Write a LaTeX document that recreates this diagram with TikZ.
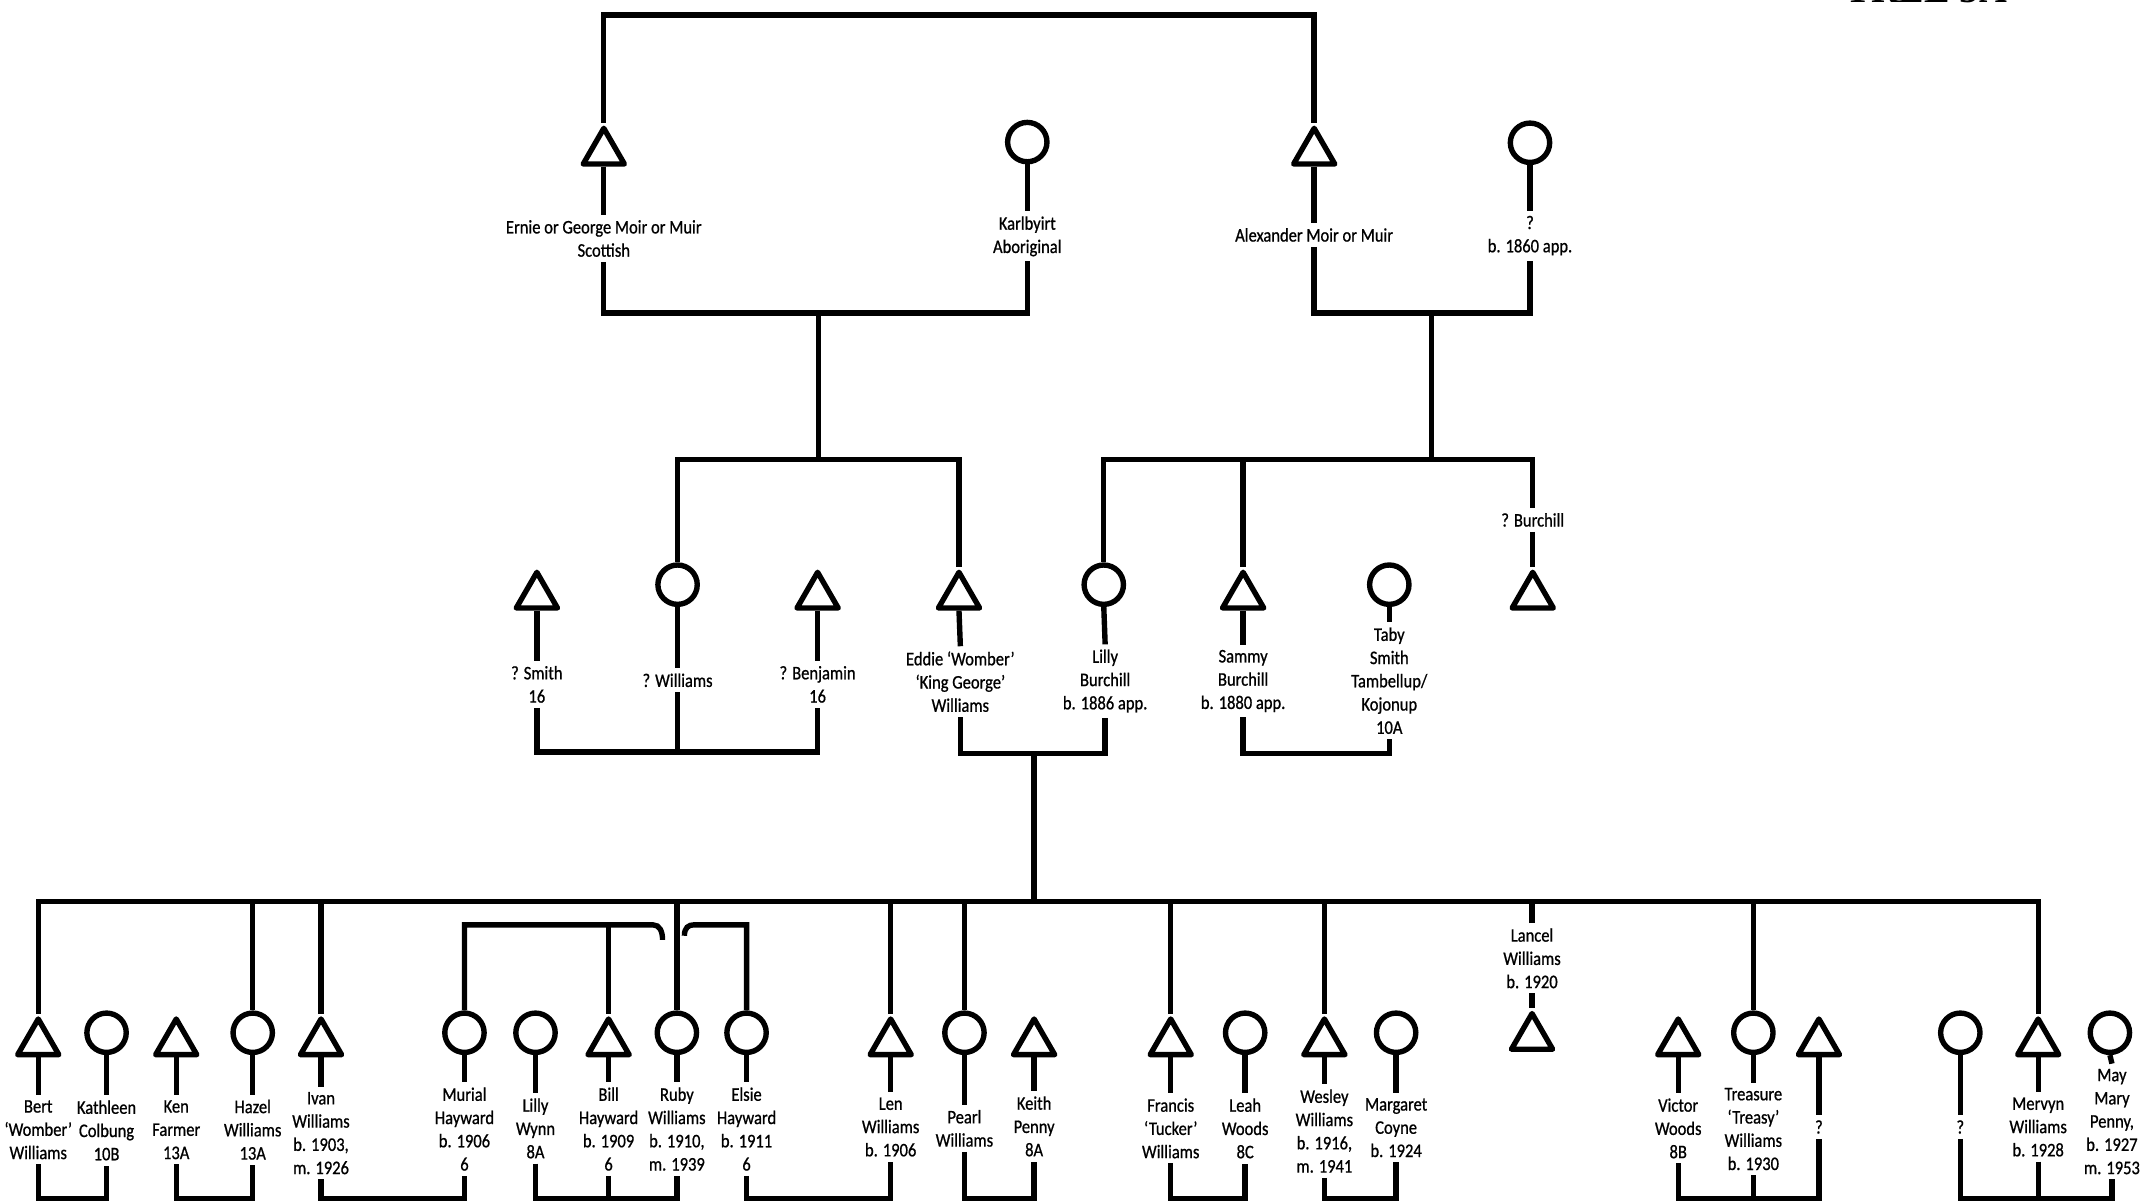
\documentclass[tikz,border=0pt]{standalone}
\usepackage{fontspec}
\setmainfont{Carlito}[FakeStretch=0.86, FakeBold=0.8]
\newfontfamily\titlefont{Liberation Serif}
\usetikzlibrary{shapes.geometric}
\tikzset{
  link/.style={line width=2.8pt},
  male/.style={draw, regular polygon, regular polygon sides=3, minimum size=0.87cm, inner sep=0pt, line width=2.8pt, line join=round},
  female/.style={draw, circle, minimum size=0.72cm, inner sep=0pt, line width=2.8pt},
  lbl/.style={align=center, font=\fontsize{10}{12.1}\selectfont, inner xsep=1pt, inner ysep=2.5pt},
}
\begin{document}
\begin{tikzpicture}[x=0.025cm, y=-0.025cm]
\useasboundingbox (0,0) rectangle (1568,881);
\node[font=\titlefont\bfseries\fontsize{20}{20}\selectfont, anchor=base, inner sep=0pt] (title) at (1410,2) {TREE 5A};

% ---------- generation 1
\node[male, anchor=north] (ernie) at (442,90) {};
\node[lbl] (ernieL) at (442,174.6) {Ernie or George Moir or Muir\\Scottish};
\node[female] (karl) at (752,104) {};
\node[lbl] (karlL) at (752,173) {Karlbyirt\\Aboriginal};
\node[male, anchor=north] (alex) at (962,90) {};
\node[lbl] (alexL) at (962,172) {Alexander Moir or Muir};
\node[female] (q60) at (1120,104.5) {};
\node[lbl] (q60L) at (1120,172.5) {?\\b. 1860 app.};

\coordinate (top) at (700,11);
\coordinate (m1) at (599,229);
\coordinate (m2) at (1048,229);
\coordinate (sib1) at (599,336.5);
\coordinate (sib2) at (1048,336.5);

\draw[link] (ernie.north) |- (top) -| (alex.north);
\draw[link] (ernie.south) -- (ernieL.north);
\draw[link] (karl.south) -- (karlL.north);
\draw[link] (alex.south) -- (alexL.north);
\draw[link] (q60.south) -- (q60L.north);
\draw[link] (ernieL.south) |- (m1) -| (karlL.south);
\draw[link] (alexL.south) |- (m2) -| (q60L.south);
\draw[link] (m1) -- (sib1);
\draw[link] (m2) -- (sib2);

% ---------- generation 2
\node[male, anchor=north] (smith) at (393,415) {};
\node[lbl] (smithL) at (393,501) {? Smith\\16};
\node[female] (wil) at (496,428) {};
\node[lbl] (wilL) at (496,498) {? Williams};
\node[male, anchor=north] (benj) at (598.5,415) {};
\node[lbl] (benjL) at (598.5,501) {? Benjamin\\16};
\node[male, anchor=north] (eddie) at (702,415) {};
\node[lbl] (eddieL) at (703,499) {Eddie `Womber'\\`King George'\\Williams};
\node[female] (lilly) at (808,428) {};
\node[lbl] (lillyL) at (809,498.5) {Lilly\\Burchill\\b. 1886 app.};
\node[male, anchor=north] (sammy) at (910,415) {};
\node[lbl] (sammyL) at (910,498.5) {Sammy\\Burchill\\b. 1880 app.};
\node[female] (taby) at (1017,428) {};
\node[lbl] (tabyL) at (1017,498.3) {Taby\\Smith\\Tambellup/\\Kojonup\\10A};
\node[lbl] (qburL) at (1122,380.6) {? Burchill};
\node[male, anchor=north] (qbur) at (1122,415) {};

\coordinate (m3) at (496,550.5);
\coordinate (m4) at (757,551.5);
\coordinate (m5) at (963,551.5);
\coordinate (gen3) at (757,660);

\draw[link] (wil.north) |- (sib1) -| (eddie.north);
\draw[link] (lilly.north) |- (sib2) -| (qburL.north);
\draw[link] (sammy.north) -- (sammy.north |- sib2);
\draw[link] (qburL.south) -- (qbur.north);
\draw[link] (smith.south) -- (smithL.north);
\draw[link] (wil.south) -- (wilL.north);
\draw[link] (benj.south) -- (benjL.north);
\draw[link] (eddie.south) -- (eddieL.north);
\draw[link] (lilly.south) -- (lillyL.north);
\draw[link] (sammy.south) -- (sammyL.north);
\draw[link] (taby.south) -- (tabyL.north);
\draw[link] (smithL.south) |- (m3) -| (benjL.south);
\draw[link] (wilL.south) -- (m3);
\draw[link] (eddieL.south) |- (m4) -| (lillyL.south);
\draw[link] (sammyL.south) |- (m5) -| (tabyL.south);
\draw[link] (m4) -- (gen3);

% ---------- generation 3
\node[male, anchor=north] (bert) at (28,742) {};
\node[lbl] (bertL) at (28,827) {Bert\\`Womber'\\Williams};
\node[female] (kath) at (78,756) {};
\node[lbl] (kathL) at (78,827.5) {Kathleen\\Colbung\\10B};
\node[male, anchor=north] (ken) at (129,742) {};
\node[lbl] (kenL) at (129,827) {Ken\\Farmer\\13A};
\node[female] (hazel) at (185,756) {};
\node[lbl] (hazelL) at (185,827) {Hazel\\Williams\\13A};
\node[male, anchor=north] (ivan) at (235,742) {};
\node[lbl] (ivanL) at (235,829.5) {Ivan\\Williams\\b. 1903,\\m. 1926};
\node[female] (murial) at (340,756) {};
\node[lbl] (murialL) at (340,826.5) {Murial\\Hayward\\b. 1906\\6};
\node[female] (lwynn) at (392,756) {};
\node[lbl] (lwynnL) at (392,826) {Lilly\\Wynn\\8A};
\node[male, anchor=north] (bill) at (445.5,742) {};
\node[lbl] (billL) at (445.5,826.5) {Bill\\Hayward\\b. 1909\\6};
\node[female] (ruby) at (495.5,756) {};
\node[lbl] (rubyL) at (495.5,826.5) {Ruby\\Williams\\b. 1910,\\m. 1939};
\node[female] (elsie) at (546.5,756) {};
\node[lbl] (elsieL) at (546.5,826.5) {Elsie\\Hayward\\b. 1911\\6};
\node[male, anchor=north] (len) at (652,742) {};
\node[lbl] (lenL) at (652,825) {Len\\Williams\\b. 1906};
\node[female] (pearl) at (706,756) {};
\node[lbl] (pearlL) at (706,826) {Pearl\\Williams};
\node[male, anchor=north] (keith) at (757,742) {};
\node[lbl] (keithL) at (757,824.5) {Keith\\Penny\\8A};
\node[male, anchor=north] (francis) at (857,742) {};
\node[lbl] (francisL) at (857,826) {Francis\\`Tucker'\\Williams};
\node[female] (leah) at (911.5,756) {};
\node[lbl] (leahL) at (911.5,826) {Leah\\Woods\\8C};
\node[male, anchor=north] (wesley) at (969.5,742) {};
\node[lbl] (wesleyL) at (969.5,828) {Wesley\\Williams\\b. 1916,\\m. 1941};
\node[female] (marg) at (1022,756) {};
\node[lbl] (margL) at (1022,825.5) {Margaret\\Coyne\\b. 1924};
\node[lbl] (lancelL) at (1121.5,701.5) {Lancel\\Williams\\b. 1920};
\node[male, anchor=north] (lancel) at (1121.5,738) {};
\node[male, anchor=north] (victor) at (1228.5,742) {};
\node[lbl] (victorL) at (1228.5,826) {Victor\\Woods\\8B};
\node[female] (treas) at (1283.5,756) {};
\node[lbl] (treasL) at (1283.5,826.5) {Treasure\\`Treasy'\\Williams\\b. 1930};
\node[male, anchor=north] (qm) at (1331.5,742) {};
\node[lbl] (qmL) at (1331.5,825) {?};
\node[female] (qf) at (1435,756) {};
\node[lbl] (qfL) at (1435,825) {?};
\node[male, anchor=north] (mervyn) at (1492,742) {};
\node[lbl] (mervynL) at (1492,825) {Mervyn\\Williams\\b. 1928};
\node[female] (may) at (1544.5,756) {};
\node[lbl] (mayL) at (1546,821) {May\\Mary\\Penny,\\b. 1927\\m. 1953};

% sibling bar of generation 3
\draw[link] (bert.north) |- (gen3) -| (mervyn.north);
\foreach \p in {hazel,ivan,ruby,len,pearl,francis,wesley,treas}
  \draw[link] (\p.north) -- (\p.north |- gen3);
\draw[link] (lancelL.north) -- (lancelL.north |- gen3);
\draw[link] (lancelL.south) -- (lancel.north);

% Hayward siblings (bar with crossing hooks)
\coordinate (hk1) at (478,677);
\coordinate (hk2) at (485,688);
\coordinate (hk3) at (501,685);
\coordinate (hk4) at (508,677);
\draw[link] (murial.north) |- (hk1) .. controls +(5,0) and +(0,-6) .. (hk2);
\draw[link] (hk3) .. controls +(0,-6) and +(-4,0) .. (hk4) -| (elsie.north);
\draw[link] (bill.north) -- (bill.north |- hk1);

% shape-to-label lines
\foreach \p in {bert,kath,ken,hazel,ivan,murial,lwynn,bill,ruby,elsie,len,pearl,keith,francis,leah,wesley,marg,victor,treas,qm,qf,mervyn,may}
  \draw[link] (\p.south) -- (\p L.north);

% marriage bars at the bottom
\coordinate (b1) at (53,877.5);
\coordinate (b2) at (157,877.5);
\coordinate (b3) at (288,877.5);
\coordinate (b4) at (445.5,877.5);
\coordinate (b5) at (600,877.5);
\coordinate (b6) at (731,877.5);
\coordinate (b7) at (884,877.5);
\coordinate (b8) at (995,877.5);
\coordinate (b9) at (1283.5,877.5);
\coordinate (b10) at (1492,877.5);
\draw[link] (bertL.south) |- (b1) -| (kathL.south);
\draw[link] (kenL.south) |- (b2) -| (hazelL.south);
\draw[link] (ivanL.south) |- (b3) -| (murialL.south);
\draw[link] (lwynnL.south) |- (b4) -| (rubyL.south);
\draw[link] (billL.south) -- (b4);
\draw[link] (elsieL.south) |- (b5) -| (lenL.south);
\draw[link] (pearlL.south) |- (b6) -| (keithL.south);
\draw[link] (francisL.south) |- (b7) -| (leahL.south);
\draw[link] (wesleyL.south) |- (b8) -| (margL.south);
\draw[link] (victorL.south) |- (b9) -| (qmL.south);
\draw[link] (treasL.south) -- (b9);
\draw[link] (qfL.south) |- (b10) -| (mayL.south);
\draw[link] (mervynL.south) -- (b10);
\end{tikzpicture}
\end{document}
